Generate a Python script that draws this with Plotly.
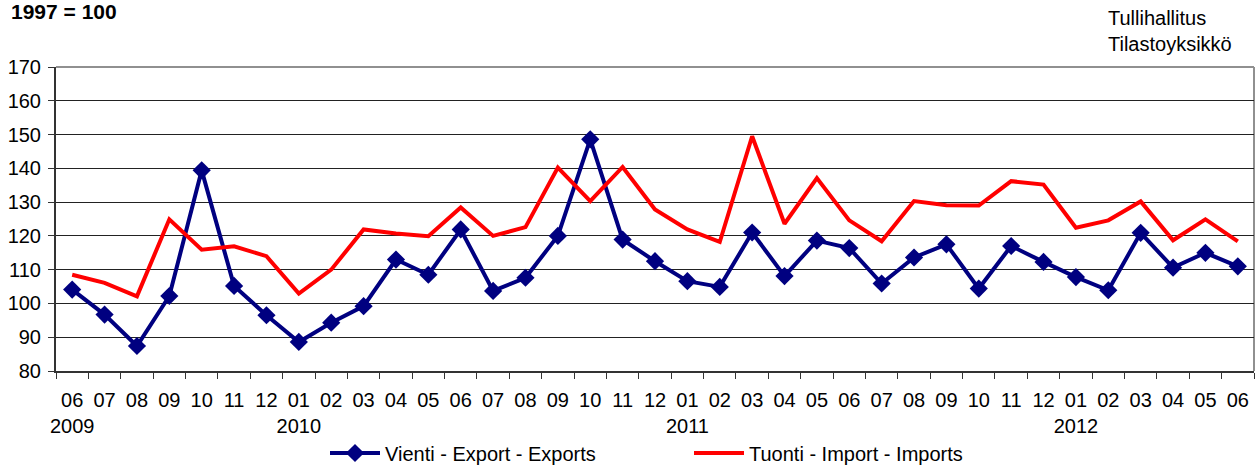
import plotly.graph_objects as go

months = ["06", "07", "08", "09", "10", "11", "12",
          "01", "02", "03", "04", "05", "06", "07", "08", "09", "10", "11", "12",
          "01", "02", "03", "04", "05", "06", "07", "08", "09", "10", "11", "12",
          "01", "02", "03", "04", "05", "06"]
years = ["2009", "", "", "", "", "", "",
         "2010", "", "", "", "", "", "", "", "", "", "", "",
         "2011", "", "", "", "", "", "", "", "", "", "", "",
         "2012", "", "", "", "", ""]

exports = [104.1, 96.7, 87.4, 102.2, 139.4, 105.2, 96.5,
           88.6, 94.3, 99.2, 113.0, 108.5, 121.9, 103.7, 107.6, 120.0, 148.6, 118.9, 112.5,
           106.6, 104.9, 121.0, 108.1, 118.6, 116.4, 105.9, 113.6, 117.5, 104.4, 117.0, 112.3,
           107.8, 103.9, 120.9, 110.6, 115.0, 111.0]
imports = [108.5, 106.1, 102.1, 124.9, 115.9, 116.9, 114.0,
           102.9, 110.0, 121.9, 120.7, 119.9, 128.4, 120.0, 122.6, 140.2, 130.3, 140.4, 127.8,
           121.9, 118.2, 149.5, 123.6, 137.1, 124.6, 118.4, 130.3, 129.1, 129.0, 136.2, 135.2,
           122.4, 124.6, 130.2, 118.7, 124.9, 118.4]

# unique category keys, display text from months/years
cats = [f"c{i}" for i in range(len(months))]
ticktext = [m + "<br>" + (y if y else " ") for m, y in zip(months, years)]

FONT = "Liberation Sans, Arial, sans-serif"
L, R, T, B = 56, 6, 67, 97
PW, PH = 1260 - L - R, 468 - T - B

fig = go.Figure()
fig.add_trace(go.Scatter(
    x=cats, y=exports, name="Vienti - Export - Exports", mode="lines+markers",
    line=dict(color="#000080", width=4),
    marker=dict(symbol="diamond", size=14, color="#000080"),
))
fig.add_trace(go.Scatter(
    x=cats, y=imports, name="Tuonti - Import - Imports", mode="lines",
    line=dict(color="#FF0000", width=4),
))

fig.update_layout(
    width=1260, height=468,
    margin=dict(l=L, r=R, t=T, b=B, autoexpand=False),
    paper_bgcolor="white", plot_bgcolor="white",
    font=dict(family=FONT, size=20, color="black"),
    showlegend=True,
    legend=dict(orientation="h", x=(325 - L) / PW, xanchor="left",
                y=(468 - B - 453) / PH, yanchor="middle",
                itemwidth=50, entrywidth=299, font=dict(size=20, family=FONT),
                bgcolor="rgba(0,0,0,0)", traceorder="normal"),
    annotations=[
        dict(text="<b>1997 = 100</b>", xref="paper", yref="paper",
             x=(9 - L) / PW, y=(468 - B - 12) / PH,
             xanchor="left", yanchor="middle", showarrow=False,
             font=dict(size=21, family=FONT)),
        dict(text="Tullihallitus<br>Tilastoyksikkö", xref="paper", yref="paper",
             x=(1106 - L) / PW, y=(468 - B - 31) / PH, xanchor="left", yanchor="middle",
             align="left", showarrow=False, font=dict(size=20, family=FONT)),
    ],
    shapes=[
        dict(type="line", xref="paper", yref="paper", x0=0, x1=1, y0=1, y1=1,
             line=dict(color="#909090", width=2), layer="below"),
        dict(type="line", xref="paper", yref="paper", x0=1, x1=1, y0=0, y1=1,
             line=dict(color="#909090", width=2), layer="below"),
    ],
)

fig.update_xaxes(
    type="category", categoryorder="array", categoryarray=cats,
    tickvals=cats, ticktext=ticktext, tickson="boundaries",
    range=[-0.5, len(cats) - 0.5], automargin=False,
    ticks="outside", ticklen=6, tickcolor="#333333", tickwidth=1,
    ticklabelstandoff=10,
    showgrid=False, showline=True, linecolor="#333333", linewidth=2,
    tickangle=0, tickfont=dict(size=20, family=FONT),
)
fig.update_yaxes(
    range=[80, 170], tickvals=[80, 90, 100, 110, 120, 130, 140, 150, 160, 170],
    automargin=False,
    ticks="outside", ticklen=6, tickcolor="#333333", ticklabelstandoff=3,
    showgrid=True, gridcolor="#222222", gridwidth=1,
    showline=True, linecolor="#333333", linewidth=2,
    zeroline=False, tickfont=dict(size=20, family=FONT),
)

fig.write_html("out.html", config={"displayModeBar": False},
               post_script="document.body.style.margin='0';document.body.style.padding='0';")
